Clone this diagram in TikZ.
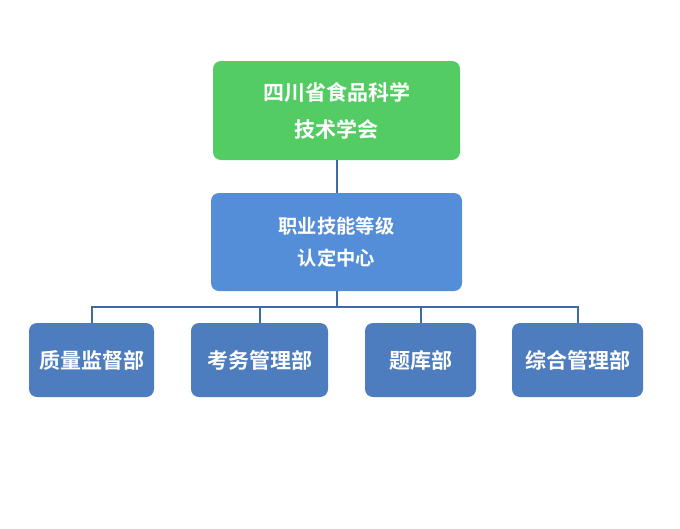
\documentclass[tikz,border=0pt]{standalone}
\usepackage{fontspec}
\usepackage{xcolor}
\usetikzlibrary{positioning}
\newfontfamily\cjk{Noto Sans CJK SC Bold}
\definecolor{topgreen}{RGB}{82,204,99}
\definecolor{midblue}{RGB}{85,142,216}
\definecolor{deptblue}{RGB}{77,125,191}
\definecolor{linkblue}{RGB}{63,106,168}
\tikzset{
  org/.style   = {rounded corners=8pt, align=center, text=white, inner sep=0pt},
  head/.style  = {org, fill=topgreen, minimum width=247pt, minimum height=99pt,
                  font=\cjk\fontsize{21}{37}\selectfont},
  hub/.style   = {org, fill=midblue, minimum width=251pt, minimum height=98pt,
                  font=\cjk\fontsize{19.3}{32}\selectfont},
  dept/.style  = {org, fill=deptblue, minimum height=74pt,
                  font=\cjk\fontsize{21}{24}\selectfont},
  link/.style  = {draw=linkblue, line width=2pt},
}

\begin{document}
\begin{tikzpicture}[x=1pt, y=-1pt]
  \useasboundingbox (0,0) rectangle (680,528);
  \node[head] (soc) at (336.5,110.5) {四川省食品科学\\技术学会};
  \node[hub] (cert) at (336.5,242) {职业技能等级\\认定中心};
  \node[dept, minimum width=125pt] (qual) at (91.5,360) {质量监督部};
  \node[dept, minimum width=137pt] (exam) at (259.5,360) {考务管理部};
  \node[dept, minimum width=111pt] (bank) at (420.5,360) {题库部};
  \node[dept, minimum width=131pt] (gen) at (577.5,360) {综合管理部};
  \coordinate (bus) at (336.5,307);
  \draw[link] (soc) -- (cert);
  \draw[link] (cert) -- (bus);
  \draw[link] (qual.north) |- (bus) -| (gen.north);
  \draw[link] (exam.north) -- (exam.north |- bus);
  \draw[link] (bank.north) -- (bank.north |- bus);
\end{tikzpicture}
\end{document}
